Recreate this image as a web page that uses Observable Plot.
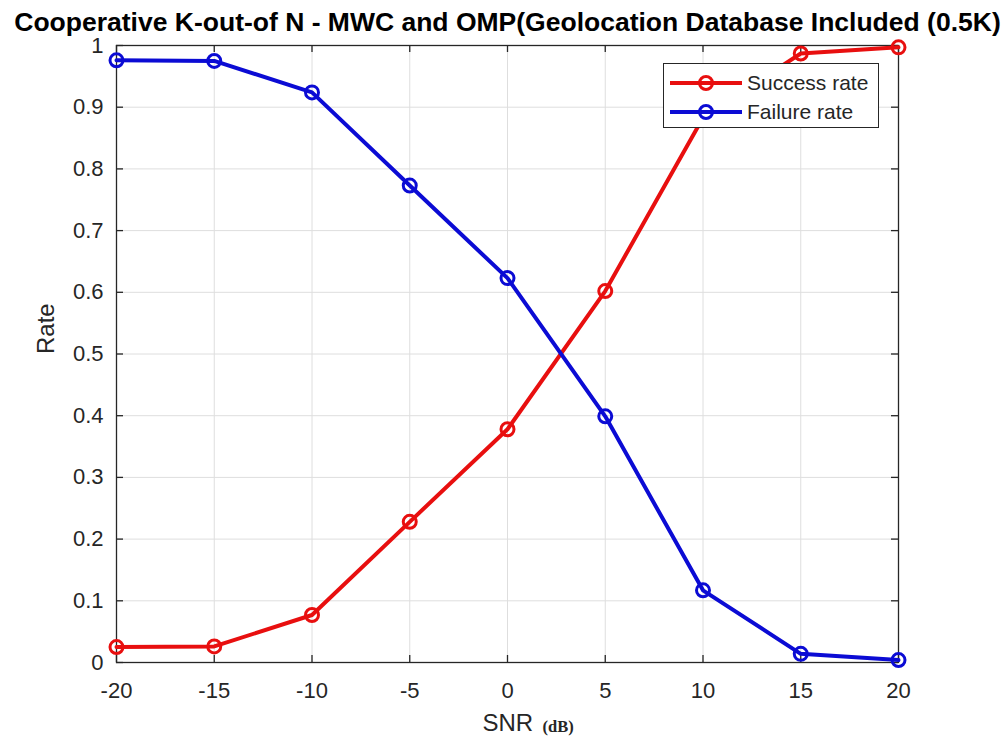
<!DOCTYPE html>
<html>
<head>
<meta charset="utf-8">
<script src="https://cdn.jsdelivr.net/npm/d3@7"></script>
<script src="https://cdn.jsdelivr.net/npm/@observablehq/plot@0.6"></script>
<style>
  html, body { margin: 0; padding: 0; background: #fff; }
  #wrap { position: relative; width: 1002px; height: 738px; font-family: "Liberation Sans", Arial, sans-serif; }
  #legend { position: absolute; left: 663px; top: 63px; }
</style>
</head>
<body>
<div id="wrap"></div>
<script>
const snr = [-20, -15, -10, -5, 0, 5, 10, 15, 20];
const successRate = [0.025, 0.026, 0.077, 0.228, 0.378, 0.602, 0.883, 0.987, 0.997];
const failureRate = [0.976, 0.975, 0.924, 0.773, 0.623, 0.399, 0.117, 0.014, 0.004];
const seriesNames = ["Success rate", "Failure rate"];
const seriesColors = ["#e80f0f", "#0b0bd4"];
const xTicks = [-20, -15, -10, -5, 0, 5, 10, 15, 20];
const yTicks = [0, 0.1, 0.2, 0.3, 0.4, 0.5, 0.6, 0.7, 0.8, 0.9, 1];
const titleText = "Cooperative K-out-of N - MWC and OMP(Geolocation Database Included (0.5K)";
const xLabel = "SNR";
const xUnit = "(dB)";
const yLabel = "Rate";

const rows = [];
snr.forEach((s, i) => rows.push({snr: s, rate: successRate[i], series: seriesNames[0]}));
snr.forEach((s, i) => rows.push({snr: s, rate: failureRate[i], series: seriesNames[1]}));

const W = 1002, H = 738, mL = 116, mR = 104, mT = 45, mB = 76;
const fw = W - mL - mR, fh = H - mT - mB, tl = 7;
const axisColor = "#262626";

const chart = Plot.plot({
  width: W, height: H,
  marginLeft: mL, marginRight: mR, marginTop: mT, marginBottom: mB,
  style: {fontFamily: "'Liberation Sans', Arial, sans-serif", background: "white", overflow: "visible"},
  x: {domain: [-20, 20]},
  y: {domain: [0, 1]},
  color: {domain: seriesNames, range: seriesColors},
  marks: [
    Plot.gridX(xTicks, {stroke: "#dedede", strokeOpacity: 1}),
    Plot.gridY(yTicks, {stroke: "#dedede", strokeOpacity: 1}),
    Plot.frame({stroke: axisColor, strokeWidth: 1.3}),
    Plot.tickX(xTicks, {x: d => d, insetTop: fh - tl, stroke: axisColor, strokeWidth: 1.3}),
    Plot.tickX(xTicks, {x: d => d, insetBottom: fh - tl, stroke: axisColor, strokeWidth: 1.3}),
    Plot.tickY(yTicks, {y: d => d, insetRight: fw - tl, stroke: axisColor, strokeWidth: 1.3}),
    Plot.tickY(yTicks, {y: d => d, insetLeft: fw - tl, stroke: axisColor, strokeWidth: 1.3}),
    Plot.axisX(xTicks, {tickSize: 0, tickPadding: 20, fontSize: 22, fill: axisColor, tickFormat: d => String(d), label: null}),
    Plot.axisY(yTicks, {tickSize: 0, tickPadding: 13, fontSize: 22, fill: axisColor, tickFormat: d => String(d), label: null}),
    Plot.line(rows, {x: "snr", y: "rate", stroke: "series", z: "series", strokeWidth: 4}),
    Plot.dot(rows, {x: "snr", y: "rate", stroke: "series", r: 6.5, strokeWidth: 3, fill: "none"}),
    Plot.text([titleText], {frameAnchor: "top", lineAnchor: "middle", dy: -23, fontSize: 26.5, fontWeight: "bold", fill: "black"}),
    Plot.text([yLabel], {frameAnchor: "left", lineAnchor: "middle", rotate: -90, dx: -70, fontSize: 24, fill: axisColor}),
    Plot.text([xLabel], {frameAnchor: "bottom", lineAnchor: "middle", textAnchor: "start", dx: -25, dy: 61, fontSize: 24, fill: axisColor}),
    Plot.text([xUnit], {frameAnchor: "bottom", lineAnchor: "middle", textAnchor: "start", dx: 35, dy: 64, fontSize: 16.5, fontWeight: "bold", fontFamily: "'Liberation Serif', 'Times New Roman', serif", fill: axisColor})
  ]
});
document.getElementById("wrap").appendChild(chart);

// legend
const lg = d3.select("#wrap").append("svg").attr("id", "legend").attr("width", 217).attr("height", 66);
lg.append("rect").attr("x", 0.5).attr("y", 0.5).attr("width", 215).attr("height", 64)
  .attr("fill", "white").attr("stroke", axisColor).attr("stroke-width", 1);
seriesNames.forEach((name, i) => {
  const cy = 20 + i * 29;
  const g = lg.append("g");
  g.append("line").attr("x1", 7).attr("x2", 79).attr("y1", cy).attr("y2", cy)
    .attr("stroke", seriesColors[i]).attr("stroke-width", 4);
  g.append("circle").attr("cx", 43).attr("cy", cy).attr("r", 6.5)
    .attr("fill", "none").attr("stroke", seriesColors[i]).attr("stroke-width", 3);
  g.append("text").attr("x", 84).attr("y", cy).attr("dy", "0.35em")
    .attr("font-size", 21).attr("fill", axisColor)
    .attr("font-family", "'Liberation Sans', Arial, sans-serif").text(name);
});
</script>
</body>
</html>
